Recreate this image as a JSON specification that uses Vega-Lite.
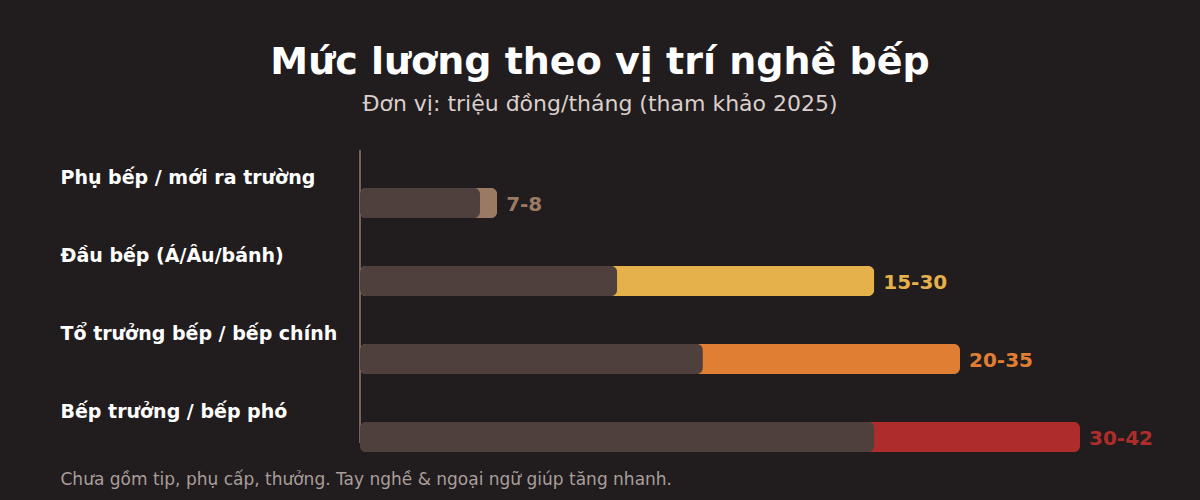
{
  "$schema": "https://vega.github.io/schema/vega-lite/v6.json",
  "autosize": "none",
  "padding": {"left": 360, "top": 150, "right": 120, "bottom": 57},
  "width": 720,
  "height": 293,
  "background": "#211c1e",
  "title": {
    "text": "Mức lương theo vị trí nghề bếp",
    "subtitle": "Đơn vị: triệu đồng/tháng (tham khảo 2025)",
    "anchor": "middle",
    "dx": -120,
    "offset": 34,
    "fontSize": 38,
    "fontWeight": "bold",
    "color": "#ffffff",
    "subtitleFontSize": 22,
    "subtitleColor": "#d9cfcb",
    "subtitlePadding": 12
  },
  "data": {
    "values": [
      {"role": "Phụ bếp / mới ra trường", "min": 7, "max": 8, "label": "7-8"},
      {"role": "Đầu bếp (Á/Âu/bánh)", "min": 15, "max": 30, "label": "15-30"},
      {"role": "Tổ trưởng bếp / bếp chính", "min": 20, "max": 35, "label": "20-35"},
      {"role": "Bếp trưởng / bếp phó", "min": 30, "max": 42, "label": "30-42"}
    ]
  },
  "encoding": {
    "y": {
      "field": "role",
      "type": "nominal",
      "sort": null,
      "scale": {"type": "point", "range": [53, 287], "padding": 0},
      "axis": {
        "title": null,
        "domain": false,
        "ticks": false,
        "tickSize": 0,
        "labelAlign": "left",
        "labelBaseline": "alphabetic",
        "labelPadding": 300,
        "labelOffset": -20,
        "labelLimit": 0,
        "labelFontSize": 19,
        "labelFontWeight": "bold",
        "labelColor": "#ffffff"
      }
    }
  },
  "layer": [
    {
      "mark": {"type": "rule", "color": "#75635d", "strokeWidth": 2},
      "encoding": {"x": {"datum": 0, "type": "quantitative"}, "y": null}
    },
    {
      "mark": {"type": "bar", "height": 30, "cornerRadius": 6},
      "encoding": {
        "x": {
          "field": "max",
          "type": "quantitative",
          "scale": {"domain": [0, 42], "nice": false},
          "axis": {
            "title": "Chưa gồm tip, phụ cấp, thưởng. Tay nghề & ngoại ngữ giúp tăng nhanh.",
            "domain": false,
            "ticks": false,
            "labels": false,
            "grid": false,
            "titleAnchor": "start",
            "titleAlign": "left",
            "titleBaseline": "alphabetic",
            "titleX": -300,
            "titleY": 41,
            "titleFontSize": 17,
            "titleFontWeight": "normal",
            "titleColor": "#a99f9b"
          }
        },
        "color": {
          "field": "label",
          "type": "nominal",
          "legend": null,
          "scale": {
            "domain": ["7-8", "15-30", "20-35", "30-42"],
            "range": ["#9a7a63", "#e4b14a", "#e07f33", "#ae2d2a"]
          }
        }
      }
    },
    {
      "mark": {"type": "bar", "height": 30, "cornerRadius": 6, "color": "#4f403d"},
      "encoding": {
        "x": {"field": "min", "type": "quantitative"}
      }
    },
    {
      "mark": {"type": "text", "align": "left", "baseline": "middle", "dx": 9, "dy": 2, "fontSize": 20, "fontWeight": "bold"},
      "encoding": {
        "x": {"field": "max", "type": "quantitative"},
        "text": {"field": "label"},
        "color": {"field": "label", "type": "nominal", "legend": null}
      }
    }
  ],
  "config": {
    "font": "DejaVu Sans",
    "view": {"stroke": null}
  }
}
